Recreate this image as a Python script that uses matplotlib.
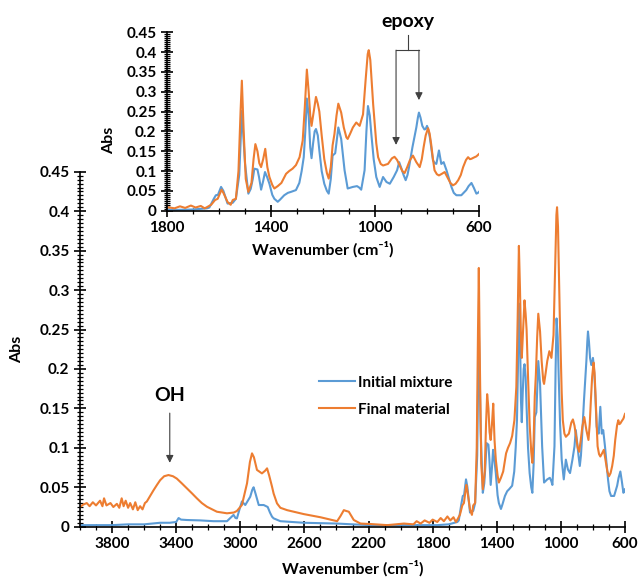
import numpy as np
import matplotlib
matplotlib.use('Agg')
import matplotlib.pyplot as plt
from matplotlib.ticker import MultipleLocator

plt.rcParams['font.family'] = ['Lato', 'DejaVu Sans']
plt.rcParams['font.weight'] = 'bold'

# Initial mixture (blue)
wn_init = [4000, 3900, 3800, 3700, 3600, 3500, 3440, 3400, 3385, 3370, 3333, 3250, 3167, 3083,
           3042, 3030, 3021, 3005, 2990, 2969, 2950, 2938, 2925, 2917, 2905, 2885, 2854, 2829,
           2815, 2802, 2792, 2750, 2604, 2396, 2300, 2187, 2000, 1771, 1700, 1646, 1637, 1620,
           1612, 1604, 1592, 1583, 1567, 1547, 1535, 1522, 1512, 1500, 1487, 1478, 1470, 1464,
           1452, 1446, 1438, 1430, 1423, 1415, 1406, 1395, 1387, 1374, 1365, 1349, 1335, 1323,
           1304, 1291, 1282, 1274, 1268, 1262, 1255, 1249, 1244, 1238, 1232, 1227, 1220, 1214,
           1205, 1195, 1185, 1178, 1170, 1163, 1153, 1141, 1130, 1117, 1105, 1095, 1085, 1069,
           1060, 1053, 1040, 1033, 1027, 1020, 1014, 1005, 995, 982, 969, 956, 943, 928, 915,
           907, 898, 890, 882, 875, 869, 856, 841, 835, 831, 825, 818, 810, 805, 800, 795, 789,
           777, 770, 764, 754, 745, 736, 725, 715, 706, 697, 687, 668, 649, 640, 629, 620, 610,
           604, 600]
abs_init = [0.002, 0.002, 0.002, 0.003, 0.003, 0.005, 0.005, 0.006, 0.011, 0.009, 0.0085, 0.008,
            0.007, 0.007, 0.015, 0.011, 0.0106, 0.022, 0.032, 0.0275, 0.034, 0.038, 0.047, 0.050,
            0.042, 0.0275, 0.0275, 0.025, 0.018, 0.0127, 0.0106, 0.007, 0.005, 0.004, 0.003,
            0.002, 0.002, 0.002, 0.003, 0.006, 0.008, 0.030, 0.039, 0.040, 0.060, 0.050, 0.018,
            0.020, 0.030, 0.090, 0.252, 0.120, 0.043, 0.055, 0.080, 0.106, 0.104, 0.085, 0.053,
            0.075, 0.0975, 0.085, 0.068, 0.040, 0.030, 0.0225, 0.028, 0.039, 0.045, 0.0475, 0.052,
            0.070, 0.100, 0.135, 0.200, 0.283, 0.240, 0.160, 0.1325, 0.170, 0.200, 0.206, 0.190,
            0.152, 0.100, 0.068, 0.050, 0.043, 0.080, 0.139, 0.145, 0.210, 0.181, 0.102, 0.056,
            0.058, 0.060, 0.062, 0.058, 0.053, 0.102, 0.200, 0.264, 0.240, 0.193, 0.130, 0.085,
            0.060, 0.085, 0.0725, 0.068, 0.085, 0.102, 0.1225, 0.106, 0.090, 0.077, 0.090, 0.110,
            0.160, 0.210, 0.235, 0.2475, 0.235, 0.214, 0.205, 0.206, 0.214, 0.205, 0.185, 0.127,
            0.120, 0.118, 0.152, 0.118, 0.1225, 0.102, 0.080, 0.060, 0.045, 0.039, 0.039, 0.052,
            0.062, 0.070, 0.058, 0.043, 0.045, 0.0475]

# Final material (orange)
wn_final = [4000, 3980, 3958, 3940, 3920, 3900, 3875, 3860, 3850, 3835, 3810, 3792, 3770, 3755,
            3740, 3728, 3715, 3700, 3687, 3670, 3655, 3640, 3625, 3610, 3595, 3583, 3560, 3542,
            3520, 3500, 3475, 3448, 3420, 3396, 3365, 3333, 3300, 3271, 3240, 3208, 3146, 3083,
            3040, 3021, 2990, 2970, 2958, 2940, 2927, 2915, 2896, 2865, 2845, 2833, 2820, 2802,
            2792, 2771, 2750, 2708, 2604, 2500, 2396, 2375, 2354, 2340, 2323, 2292, 2250, 2187,
            2083, 1979, 1920, 1900, 1875, 1850, 1820, 1800, 1771, 1750, 1730, 1708, 1690, 1670,
            1655, 1646, 1630, 1615, 1605, 1590, 1583, 1567, 1555, 1547, 1535, 1525, 1517, 1512,
            1505, 1497, 1487, 1475, 1467, 1460, 1452, 1445, 1438, 1430, 1422, 1414, 1406, 1395,
            1387, 1374, 1360, 1342, 1330, 1317, 1304, 1290, 1278, 1270, 1262, 1255, 1249, 1244,
            1238, 1227, 1220, 1214, 1205, 1195, 1185, 1178, 1170, 1163, 1156, 1148, 1141, 1130,
            1120, 1110, 1105, 1095, 1085, 1072, 1059, 1046, 1036, 1028, 1024, 1018, 1007, 995,
            988, 978, 969, 950, 935, 925, 915, 905, 895, 886, 876, 866, 854, 841, 828, 820, 813,
            805, 796, 790, 784, 777, 771, 762, 754, 743, 732, 719, 710, 700, 690, 680, 670, 661,
            650, 642, 635, 629, 620, 610, 600]
abs_final = [0.025, 0.028, 0.030, 0.026, 0.031, 0.027, 0.033, 0.026, 0.036, 0.027, 0.030, 0.025,
             0.029, 0.024, 0.036, 0.026, 0.033, 0.024, 0.030, 0.022, 0.031, 0.021, 0.026, 0.022,
             0.030, 0.032, 0.040, 0.046, 0.053, 0.059, 0.064, 0.0655, 0.064, 0.061, 0.055, 0.0486,
             0.042, 0.036, 0.030, 0.0253, 0.019, 0.017, 0.018, 0.020, 0.0275, 0.045, 0.055, 0.082,
             0.093, 0.088, 0.072, 0.0676, 0.071, 0.074, 0.065, 0.0507, 0.042, 0.0296, 0.024, 0.021,
             0.016, 0.012, 0.007, 0.0135, 0.021, 0.020, 0.019, 0.0085, 0.004, 0.0034, 0.002, 0.004,
             0.003, 0.007, 0.004, 0.008, 0.005, 0.009, 0.006, 0.011, 0.007, 0.013, 0.008, 0.012,
             0.006, 0.009, 0.015, 0.027, 0.030, 0.053, 0.045, 0.022, 0.015, 0.027, 0.030, 0.100,
             0.250, 0.328, 0.200, 0.080, 0.0475, 0.070, 0.130, 0.168, 0.150, 0.120, 0.110, 0.130,
             0.156, 0.110, 0.085, 0.065, 0.056, 0.062, 0.070, 0.093, 0.100, 0.106, 0.115, 0.135,
             0.177, 0.260, 0.356, 0.300, 0.240, 0.214, 0.240, 0.287, 0.270, 0.250, 0.190, 0.130,
             0.095, 0.081, 0.110, 0.165, 0.193, 0.240, 0.270, 0.2475, 0.210, 0.185, 0.181, 0.195,
             0.210, 0.2225, 0.214, 0.243, 0.330, 0.395, 0.405, 0.380, 0.268, 0.170, 0.135, 0.118,
             0.114, 0.118, 0.132, 0.136, 0.128, 0.114, 0.100, 0.095, 0.110, 0.127, 0.139, 0.1225,
             0.110, 0.130, 0.160, 0.190, 0.208, 0.195, 0.168, 0.130, 0.102, 0.092, 0.089, 0.093,
             0.0975, 0.081, 0.070, 0.064, 0.068, 0.077, 0.090, 0.110, 0.128, 0.135, 0.130, 0.131,
             0.134, 0.137, 0.143]

c_init = '#5B9BD5'
c_final = '#ED7D31'
xlabel = 'Wavenumber (cm\u207b\u00b9)'

fig = plt.figure(figsize=(6.39, 5.79), dpi=100)

def style_axes(ax, xmin, xmax, fs):
    ax.set_xlim(xmin, xmax)
    ax.set_ylim(0, 0.45)
    for s in ['top', 'right']:
        ax.spines[s].set_visible(False)
    for s in ['left', 'bottom']:
        ax.spines[s].set_linewidth(1.2)
    ax.yaxis.set_major_locator(MultipleLocator(0.05))
    ax.yaxis.set_minor_locator(MultipleLocator(0.005))
    ax.xaxis.set_minor_locator(MultipleLocator(100))
    ax.tick_params(which='major', direction='inout', length=8, width=1.2, labelsize=fs)
    ax.tick_params(which='minor', direction='inout', length=4, width=0.9)
    ax.yaxis.set_major_formatter(plt.FuncFormatter(lambda v, p: ('%.2f' % v).rstrip('0').rstrip('.') if v else '0'))
    ax.set_facecolor('none')

# main plot
ax = fig.add_axes([0.1252, 0.0903, 0.8529, 0.6131])
ax.plot(wn_init, abs_init, color=c_init, lw=1.5, label='Initial mixture')
ax.plot(wn_final, abs_final, color=c_final, lw=1.5, label='Final material')
style_axes(ax, 4000, 600, 11)
ax.set_xticks([3800, 3400, 3000, 2600, 2200, 1800, 1400, 1000, 600])
ax.set_ylabel('Abs', fontsize=11.5, fontweight='bold')
ax.yaxis.set_label_coords(-0.103, 0.5)
ax.set_xlabel(xlabel, fontsize=11.5, fontweight='bold')
ax.xaxis.set_label_coords(0.5, -0.094)

ax.legend(loc='upper left', bbox_to_anchor=(305 / 639, 1 - 362 / 579), bbox_transform=fig.transFigure,
          frameon=False, fontsize=11, handlelength=2.4, handletextpad=0.2, labelspacing=0.85)

ax.text(3440, 0.156, 'OH', ha='center', va='bottom', fontsize=14, fontweight='bold')
ax.annotate('', xy=(3440, 0.081), xytext=(3440, 0.144),
            arrowprops=dict(arrowstyle='-|>', color='#404040', lw=0.8, mutation_scale=11,
                            shrinkA=0, shrinkB=0, facecolor='k'))

# inset
axi = fig.add_axes([0.2613, 0.6361, 0.4883, 0.3081])
axi.plot(wn_init, abs_init, color=c_init, lw=1.5)
axi.plot(wn_final, abs_final, color=c_final, lw=1.5)
style_axes(axi, 1800, 600, 11)
axi.set_xticks([1800, 1400, 1000, 600])
axi.set_ylabel('Abs', fontsize=11.5, fontweight='bold')
axi.yaxis.set_label_coords(-0.163, 0.396)
axi.set_xlabel(xlabel, fontsize=11.5, fontweight='bold')
axi.xaxis.set_label_coords(0.5, -0.17)

axi.text(873, 0.455, 'epoxy', ha='center', va='bottom', fontsize=14, fontweight='bold', clip_on=False)
axi.plot([873, 873], [0.443, 0.405], color='#404040', lw=0.8, clip_on=False)
axi.plot([919, 831], [0.405, 0.405], color='#404040', lw=0.8, clip_on=False)
for xa, ya in [(919, 0.166), (831, 0.279)]:
    axi.annotate('', xy=(xa, ya), xytext=(xa, 0.405),
                 arrowprops=dict(arrowstyle='-|>', color='#404040', lw=0.8, mutation_scale=11,
                                 shrinkA=0, shrinkB=0, facecolor='k'))

fig.savefig('out.png', dpi=100)
